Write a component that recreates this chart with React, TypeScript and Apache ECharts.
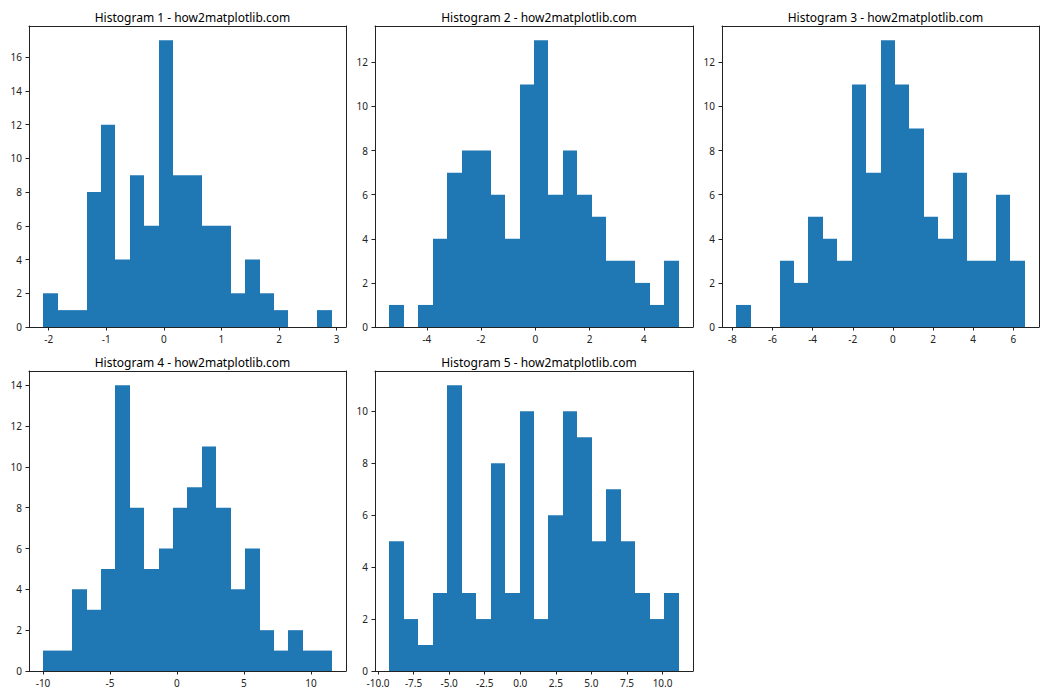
import React, { useEffect, useRef } from "react";
import * as echarts from "echarts";

// ---- Data ----
const titles = [
  "Histogram 1 - how2matplotlib.com",
  "Histogram 2 - how2matplotlib.com",
  "Histogram 3 - how2matplotlib.com",
  "Histogram 4 - how2matplotlib.com",
  "Histogram 5 - how2matplotlib.com",
];

const hist1Counts = [2, 1, 1, 8, 12, 4, 9, 6, 17, 9, 9, 6, 6, 2, 4, 2, 1, 0, 0, 1];
const hist2Counts = [1, 0, 1, 4, 7, 8, 8, 6, 4, 11, 13, 6, 8, 6, 5, 3, 3, 2, 1, 3];
const hist3Counts = [1, 0, 0, 3, 2, 5, 4, 3, 11, 7, 13, 11, 9, 5, 4, 7, 3, 3, 6, 3];
const hist4Counts = [1, 1, 4, 3, 5, 14, 8, 5, 6, 8, 9, 11, 8, 4, 6, 2, 1, 2, 1, 1];
const hist5Counts = [5, 2, 1, 3, 11, 3, 2, 8, 3, 10, 2, 6, 10, 9, 5, 7, 5, 3, 2, 3];

// data range (first bin left edge, last bin right edge)
const hist1Range = [-2.092, 2.912];
const hist2Range = [-5.378, 5.28];
const hist3Range = [-7.797, 6.562];
const hist4Range = [-9.97, 11.54];
const hist5Range = [-9.195, 11.123];

const hist1XTicks = [-2, -1, 0, 1, 2, 3];
const hist2XTicks = [-4, -2, 0, 2, 4];
const hist3XTicks = [-8, -6, -4, -2, 0, 2, 4, 6];
const hist4XTicks = [-10, -5, 0, 5, 10];
const hist5XTicks = [-10, -7.5, -5, -2.5, 0, 2.5, 5, 7.5, 10];

const hist1YTicks = [0, 2, 4, 6, 8, 10, 12, 14, 16];
const hist2YTicks = [0, 2, 4, 6, 8, 10, 12];
const hist3YTicks = [0, 2, 4, 6, 8, 10, 12];
const hist4YTicks = [0, 2, 4, 6, 8, 10, 12, 14];
const hist5YTicks = [0, 2, 4, 6, 8, 10];

const xLabelDecimals = [0, 0, 0, 0, 1];

const histCounts = [hist1Counts, hist2Counts, hist3Counts, hist4Counts, hist5Counts];
const histRanges = [hist1Range, hist2Range, hist3Range, hist4Range, hist5Range];
const histXTicks = [hist1XTicks, hist2XTicks, hist3XTicks, hist4XTicks, hist5XTicks];
const histYTicks = [hist1YTicks, hist2YTicks, hist3YTicks, hist4YTicks, hist5YTicks];

// ---- Layout ----
const gridBoxes = [
  { left: 29, top: 26, width: 317, height: 301 },
  { left: 375, top: 26, width: 318, height: 301 },
  { left: 722, top: 26, width: 317, height: 301 },
  { left: 29, top: 371, width: 317, height: 300 },
  { left: 375, top: 371, width: 318, height: 300 },
];

const FONT = "'Noto Sans', 'DejaVu Sans', sans-serif";
const BAR = "#1f77b4";
const INK = "#222222";

export default function App() {
  const ref = useRef<HTMLDivElement>(null);

  useEffect(() => {
    if (!ref.current) return;
    const chart = echarts.init(ref.current, undefined, { renderer: "svg" });

    const grids: any[] = [];
    const xAxes: any[] = [];
    const yAxes: any[] = [];
    const series: any[] = [];
    const title: any[] = [];

    histCounts.forEach((counts, i) => {
      const box = gridBoxes[i];
      grids.push({ ...box, containLabel: false, show: false });

      const [lo, hi] = histRanges[i];
      const n = counts.length;
      const w = (hi - lo) / n;
      const pad = (hi - lo) * 0.05;
      const maxC = Math.max(...counts);
      const xMin = lo - pad;
      const xMax = hi + pad;
      const yMax = maxC * 1.05;
      const dec = xLabelDecimals[i];

      const baseX = {
        type: "value",
        gridIndex: i,
        min: xMin,
        max: xMax,
        splitLine: { show: false },
        axisLine: { show: true, onZero: false, lineStyle: { color: INK, width: 1 } },
        z: 10,
      };
      xAxes.push({
        ...baseX,
        position: "bottom",
        axisTick: {
          show: true,
          length: 3.5,
          lineStyle: { color: INK, width: 1 },
          customValues: histXTicks[i],
        },
        axisLabel: {
          show: true,
          margin: 7,
          fontSize: 10,
          fontFamily: FONT,
          color: INK,
          customValues: histXTicks[i],
          formatter: (v: number) => v.toFixed(dec),
        },
      });
      xAxes.push({
        ...baseX,
        position: "top",
        axisTick: { show: false },
        axisLabel: { show: false },
      });

      const baseY = {
        type: "value",
        gridIndex: i,
        min: 0,
        max: yMax,
        splitLine: { show: false },
        axisLine: { show: true, onZero: false, lineStyle: { color: INK, width: 1 } },
        z: 10,
      };
      yAxes.push({
        ...baseY,
        position: "left",
        axisTick: {
          show: true,
          length: 3.5,
          lineStyle: { color: INK, width: 1 },
          customValues: histYTicks[i],
        },
        axisLabel: {
          show: true,
          margin: 7,
          fontSize: 10,
          fontFamily: FONT,
          color: INK,
          customValues: histYTicks[i],
          formatter: (v: number) => String(v),
        },
      });
      yAxes.push({
        ...baseY,
        position: "right",
        axisTick: { show: false },
        axisLabel: { show: false },
      });

      const data = counts.map((c, k) => [lo + k * w, lo + (k + 1) * w, c]);
      series.push({
        type: "custom",
        xAxisIndex: i * 2,
        yAxisIndex: i * 2,
        z: 2,
        data,
        encode: { x: [0, 1], y: 2 },
        renderItem: (params: any, api: any) => {
          const x0 = api.value(0);
          const x1 = api.value(1);
          const c = api.value(2);
          const pTop = api.coord([x0, c]);
          const pBot = api.coord([x1, 0]);
          const left = Math.round(pTop[0]);
          const right = Math.round(pBot[0]);
          const h = pBot[1] - pTop[1];
          if (h <= 0) return null;
          return {
            type: "rect",
            shape: {
              x: left,
              y: pTop[1],
              width: right - left,
              height: h,
            },
            style: { fill: BAR },
          };
        },
      });

      title.push({
        text: titles[i],
        left: box.left + box.width / 2,
        top: box.top - 20,
        textAlign: "center",
        textStyle: {
          fontSize: 12,
          fontWeight: "normal",
          fontFamily: FONT,
          color: "#000",
        },
      });
    });

    chart.setOption({
      animation: false,
      backgroundColor: "#ffffff",
      title,
      grid: grids,
      xAxis: xAxes,
      yAxis: yAxes,
      series,
    });

    return () => chart.dispose();
  }, []);

  return (
    <div
      ref={ref}
      style={{ position: "fixed", left: 0, top: 0, width: 1050, height: 700, background: "#fff" }}
    />
  );
}
